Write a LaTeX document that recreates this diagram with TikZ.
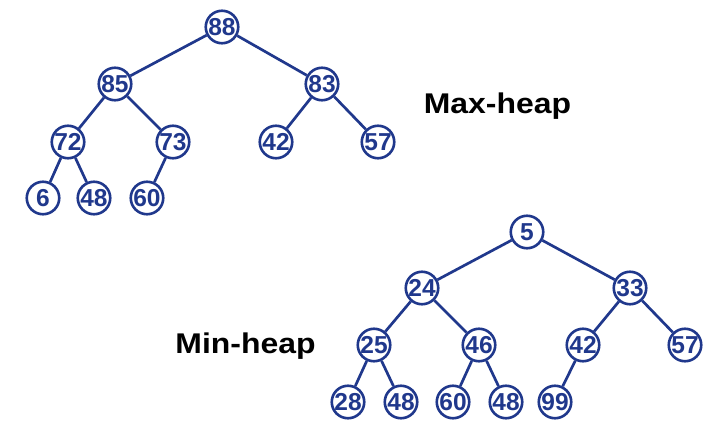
\documentclass[tikz,border=0pt]{standalone}
\usepackage{fontspec}
\setmainfont{Liberation Sans}
\newfontfamily\etiquette[FakeStretch=1.12]{Liberation Sans}
\definecolor{marine}{RGB}{32,56,140}

\begin{document}
\begin{tikzpicture}[x=1pt, y=-1pt]
			\tikzset{cercle/.style={circle, draw=marine, line width=2.6pt, inner sep=0pt, minimum size=32.5pt, text=marine, font=\fontsize{24.5}{24.5}\selectfont\bfseries}, arete/.style={draw=marine, line width=2.7pt}, titre/.style={anchor=base, inner sep=0pt, font=\etiquette\fontsize{28.5}{28.5}\selectfont\bfseries}};

			\useasboundingbox (0,0) rectangle (727,438);

			% tas max
			\node[cercle] (m88) at (222,  27) {88};
			\node[cercle] (m85) at (115,  84) {85};
			\node[cercle] (m83) at (322,  84) {83};
			\node[cercle] (m72) at ( 68, 142) {72};
			\node[cercle] (m73) at (173, 142) {73};
			\node[cercle] (m42) at (276, 142) {42};
			\node[cercle] (m57) at (378, 142) {57};
			\node[cercle] (m6)  at ( 43, 198) {6};
			\node[cercle] (m48) at ( 94, 198) {48};
			\node[cercle] (m60) at (147, 198) {60};

			% tas min
			\node[cercle] (n5)  at (527, 232) {5};
			\node[cercle] (n24) at (422, 288) {24};
			\node[cercle] (n33) at (630, 288) {33};
			\node[cercle] (n25) at (374, 345) {25};
			\node[cercle] (n46) at (479, 345) {46};
			\node[cercle] (n42) at (583, 345) {42};
			\node[cercle] (n57) at (685, 345) {57};
			\node[cercle] (n28) at (348, 402) {28};
			\node[cercle] (n48) at (401, 402) {48};
			\node[cercle] (n60) at (453, 402) {60};
			\node[cercle] (n48b) at (506, 402) {48};
			\node[cercle] (n99) at (555, 402) {99};

			\node[titre] (tmax) at (497.5, 114) {Max-heap};
			\node[titre] (tmin) at (245.5, 353) {Min-heap};

			\draw[arete] (m88) to (m85);
			\draw[arete] (m88) to (m83);
			\draw[arete] (m85) to (m72);
			\draw[arete] (m85) to (m73);
			\draw[arete] (m83) to (m42);
			\draw[arete] (m83) to (m57);
			\draw[arete] (m72) to (m6);
			\draw[arete] (m72) to (m48);
			\draw[arete] (m73) to (m60);

			\draw[arete] (n5) to (n24);
			\draw[arete] (n5) to (n33);
			\draw[arete] (n24) to (n25);
			\draw[arete] (n24) to (n46);
			\draw[arete] (n33) to (n42);
			\draw[arete] (n33) to (n57);
			\draw[arete] (n25) to (n28);
			\draw[arete] (n25) to (n48);
			\draw[arete] (n46) to (n60);
			\draw[arete] (n46) to (n48b);
			\draw[arete] (n42) to (n99);

		\end{tikzpicture}
\end{document}
